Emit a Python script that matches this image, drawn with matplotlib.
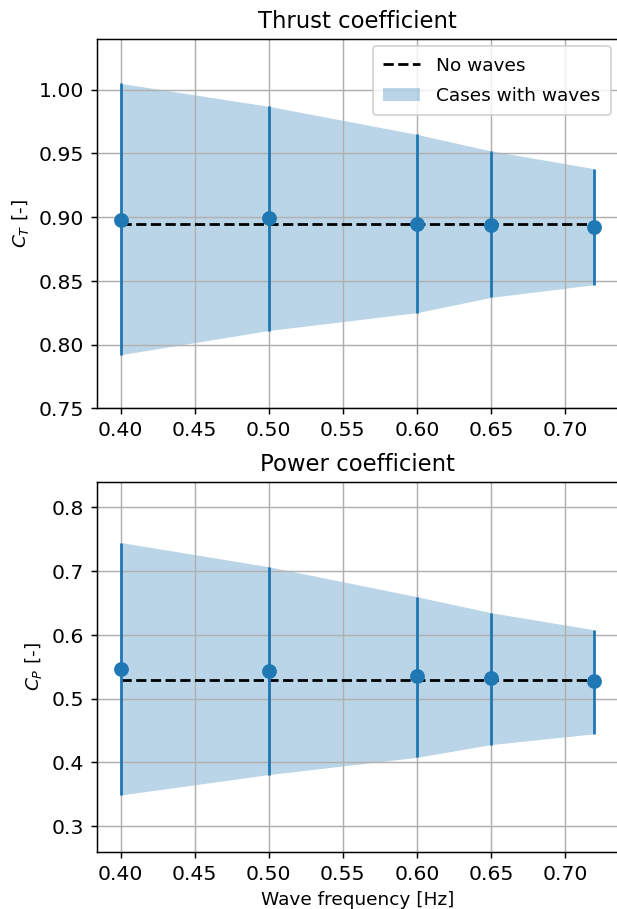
import matplotlib
matplotlib.use("Agg")
import matplotlib.pyplot as plt

# wave frequencies [Hz]
freq = [0.40, 0.50, 0.60, 0.65, 0.72]

# thrust coefficient
ct_mean = [0.898, 0.899, 0.895, 0.894, 0.892]
ct_max = [1.005, 0.987, 0.965, 0.952, 0.938]
ct_min = [0.792, 0.811, 0.825, 0.837, 0.847]
ct_nowaves = 0.895

# power coefficient
cp_mean = [0.547, 0.544, 0.535, 0.532, 0.527]
cp_max = [0.745, 0.707, 0.660, 0.635, 0.608]
cp_min = [0.349, 0.381, 0.408, 0.428, 0.445]
cp_nowaves = 0.529

plt.rcParams['font.size'] = 11
plt.rcParams['axes.labelsize'] = 10

dpi = 133
fig = plt.figure(figsize=(617.2 / dpi, 909.2 / dpi), dpi=dpi)
ax1 = fig.add_axes([0.1572, 0.5508, 0.8444, 0.4063])
ax2 = fig.add_axes([0.1572, 0.0630, 0.8444, 0.4067])


def coeff_plot(ax, mean, lo, hi, nowaves, title, ylabel, ylim):
    ax.plot([freq[0], freq[-1]], [nowaves, nowaves], 'k--', lw=1.5, label='No waves', zorder=3)
    ax.fill_between(freq, lo, hi, color='C0', alpha=0.3, lw=0, label='Cases with waves')
    err = [[m - l for m, l in zip(mean, lo)], [h - m for m, h in zip(mean, hi)]]
    ax.errorbar(freq, mean, yerr=err, fmt='o', color='C0', markersize=7, capsize=0, zorder=4)
    ax.set_title(title, fontsize=12.3)
    ax.set_ylabel(ylabel)
    ax.set_ylim(ylim)
    ax.set_xticks([0.40, 0.45, 0.50, 0.55, 0.60, 0.65, 0.70])
    ax.grid(True)
    # the reference is cut just before the right frame line
    ax.spines['right'].set_visible(False)


coeff_plot(ax1, ct_mean, ct_min, ct_max, ct_nowaves, 'Thrust coefficient', '$C_T$ [-]', (0.75, 1.04))
ax1.set_yticks([0.75, 0.80, 0.85, 0.90, 0.95, 1.00])
ax1.legend(loc='upper right', fontsize=10, borderaxespad=0.4, labelspacing=0.7,
           borderpad=0.55, handletextpad=0.9)

coeff_plot(ax2, cp_mean, cp_min, cp_max, cp_nowaves, 'Power coefficient', '$C_P$ [-]', (0.26, 0.84))
ax2.set_xlabel('Wave frequency [Hz]')

fig.savefig('out.png', dpi=dpi)
